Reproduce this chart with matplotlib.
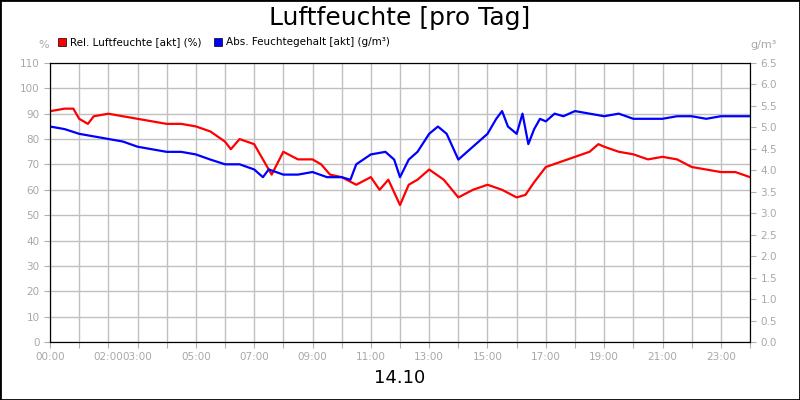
import matplotlib
matplotlib.use("Agg")
import matplotlib.pyplot as plt
from matplotlib.patches import Rectangle

rel_t = [0,0.5,0.8,1,1.3,1.5,2,2.5,3,3.5,4,4.5,5,5.5,6,6.2,6.5,7,7.3,7.6,8,8.5,9,9.3,9.6,10,10.5,11,11.3,11.6,12,12.3,12.6,13,13.5,14,14.5,15,15.5,16,16.3,16.6,17,17.5,18,18.5,18.8,19,19.5,20,20.5,21,21.5,22,22.5,23,23.5,24]
rel_v = [91,92,92,88,86,89,90,89,88,87,86,86,85,83,79,76,80,78,72,66,75,72,72,70,66,65,62,65,60,64,54,62,64,68,64,57,60,62,60,57,58,63,69,71,73,75,78,77,75,74,72,73,72,69,68,67,67,65]
abs_t = [0,0.5,1,1.5,2,2.5,3,3.5,4,4.5,5,5.5,6,6.5,7,7.3,7.5,8,8.5,9,9.5,10,10.3,10.5,11,11.5,11.8,12,12.3,12.6,13,13.3,13.6,14,14.3,14.6,15,15.3,15.5,15.7,16,16.2,16.4,16.6,16.8,17,17.3,17.6,18,18.5,19,19.5,20,20.5,21,21.5,22,22.5,23,23.5,24]
abs_v = [5.02,4.96,4.85,4.79,4.73,4.67,4.55,4.49,4.43,4.43,4.37,4.25,4.14,4.14,4.02,3.84,4.02,3.90,3.90,3.96,3.84,3.84,3.78,4.14,4.37,4.43,4.25,3.84,4.25,4.43,4.85,5.02,4.85,4.25,4.43,4.61,4.85,5.20,5.38,5.02,4.85,5.32,4.61,4.96,5.20,5.14,5.32,5.26,5.38,5.32,5.26,5.32,5.20,5.20,5.20,5.26,5.26,5.20,5.26,5.26,5.26]
xlabels = {0:"00:00",2:"02:00",3:"03:00",5:"05:00",7:"07:00",9:"09:00",11:"11:00",13:"13:00",15:"15:00",17:"17:00",19:"19:00",21:"21:00",23:"23:00"}
left_ticks = list(range(0,111,10))
right_ticks = [i*0.5 for i in range(14)]

fig = plt.figure(figsize=(8,4), dpi=100)
fig.patches.append(Rectangle((0,0),1,1,transform=fig.transFigure,fill=False,edgecolor="black",linewidth=2))
ax = fig.add_axes([0.0625,0.145,0.875,0.6975])
ax.set_xlim(0,24); ax.set_ylim(0,110)
ax.set_xticks(range(25))
ax.set_xticklabels([xlabels.get(h,"") for h in range(25)])
ax.set_yticks(left_ticks)
ax.grid(True,color="#c0c0c0",linewidth=1)
ax.set_axisbelow(True)
ax.tick_params(colors="#b0b0b0",labelcolor="#a8a8a8",labelsize=7.5,length=4)
for s in ax.spines.values(): s.set_color("black")
ax.plot(rel_t,rel_v,color="#ff0000",linewidth=1.6)
ax2 = ax.twinx()
ax2.set_ylim(0,6.5)
ax2.set_yticks(right_ticks)
ax2.set_yticklabels([f"{v:.1f}" for v in right_ticks])
ax2.tick_params(colors="#b0b0b0",labelcolor="#a8a8a8",labelsize=7.5,length=4)
ax2.plot(abs_t,abs_v,color="#0000ff",linewidth=1.6)
fig.text(0.5,0.955,"Luftfeuchte [pro Tag]",ha="center",va="center",fontsize=18)
fig.text(0.5,0.055,"14.10",ha="center",va="center",fontsize=13)
fig.text(0.055,0.88,"%",ha="center",color="#a8a8a8",fontsize=8)
fig.text(0.955,0.88,"g/m³",ha="center",color="#a8a8a8",fontsize=8)
fig.patches.append(Rectangle((0.073,0.885),0.01,0.02,transform=fig.transFigure,facecolor="#ff0000",edgecolor="black",linewidth=0.5))
fig.text(0.087,0.895,"Rel. Luftfeuchte [akt] (%)",va="center",fontsize=7.5)
fig.patches.append(Rectangle((0.268,0.885),0.01,0.02,transform=fig.transFigure,facecolor="#0000ff",edgecolor="black",linewidth=0.5))
fig.text(0.282,0.895,"Abs. Feuchtegehalt [akt] (g/m³)",va="center",fontsize=7.5)
fig.savefig("out.png")
